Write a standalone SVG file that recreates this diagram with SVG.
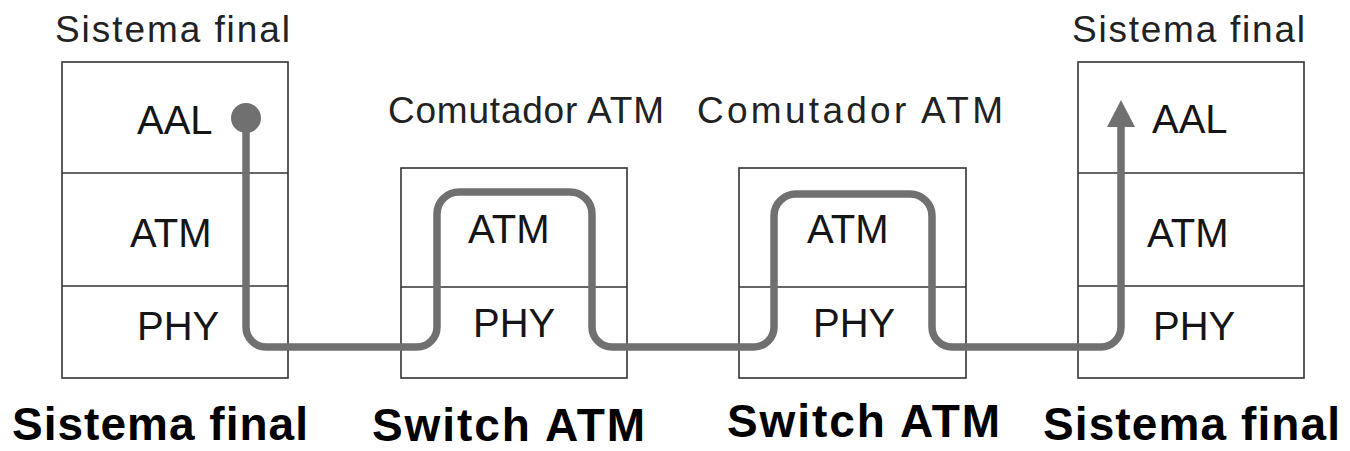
<svg xmlns="http://www.w3.org/2000/svg" width="1350" height="451" viewBox="0 0 1350 451">
  <style>
    .box { fill: #ffffff; stroke: #333333; stroke-width: 1.6; }
    .div { stroke: #333333; stroke-width: 1.6; }
    .layer { font-family: "Liberation Sans", Arial, sans-serif; font-size: 40px; fill: #151515; }
    .top { font-family: "Liberation Sans", Arial, sans-serif; font-size: 37px; fill: #222222; }
    .bot { font-family: "Liberation Sans", Arial, sans-serif; font-size: 46px; font-weight: bold; fill: #000000; }
    .flow { fill: none; stroke: #707070; stroke-width: 7.5; stroke-linejoin: round; }
  </style>
  <rect width="1350" height="451" fill="#ffffff"/>

  <g id="end-left">
    <text class="top" x="55" y="42" textLength="235" lengthAdjust="spacing">Sistema final</text>
    <rect class="box" x="62" y="62" width="226" height="316"/>
    <line class="div" x1="62" y1="173" x2="288" y2="173"/>
    <line class="div" x1="62" y1="286" x2="288" y2="286"/>
    <text class="layer" x="137" y="134">AAL</text>
    <text class="layer" x="130" y="247">ATM</text>
    <text class="layer" x="137" y="340">PHY</text>
    <text class="bot" x="12" y="440" textLength="296" lengthAdjust="spacing">Sistema final</text>
  </g>

  <g id="switch-1">
    <text class="top" x="388" y="123" textLength="276" lengthAdjust="spacing">Comutador ATM</text>
    <rect class="box" x="401" y="168" width="226" height="210"/>
    <line class="div" x1="401" y1="287" x2="627" y2="287"/>
    <text class="layer" x="468" y="243">ATM</text>
    <text class="layer" x="473" y="337">PHY</text>
    <text class="bot" x="372" y="441" textLength="273" lengthAdjust="spacing">Switch ATM</text>
  </g>

  <g id="switch-2">
    <text class="top" x="697" y="123" textLength="306" lengthAdjust="spacing">Comutador ATM</text>
    <rect class="box" x="739" y="168" width="227" height="210"/>
    <line class="div" x1="739" y1="287" x2="966" y2="287"/>
    <text class="layer" x="807" y="243">ATM</text>
    <text class="layer" x="813" y="337">PHY</text>
    <text class="bot" x="727" y="437" textLength="273" lengthAdjust="spacing">Switch ATM</text>
  </g>

  <g id="end-right">
    <text class="top" x="1072" y="42" textLength="233" lengthAdjust="spacing">Sistema final</text>
    <rect class="box" x="1078" y="62" width="226" height="316"/>
    <line class="div" x1="1078" y1="173" x2="1304" y2="173"/>
    <line class="div" x1="1078" y1="286" x2="1304" y2="286"/>
    <text class="layer" x="1152" y="133">AAL</text>
    <text class="layer" x="1147" y="247">ATM</text>
    <text class="layer" x="1153" y="340">PHY</text>
    <text class="bot" x="1043" y="440" textLength="297" lengthAdjust="spacing">Sistema final</text>
  </g>

  <g id="connectors">
    <path class="flow" d="M246,119 V327 A20,20 0 0 0 266,347 H417 A20,20 0 0 0 437,327 V214 A22,22 0 0 1 459,192 H570 A22,22 0 0 1 592,214 V327 A20,20 0 0 0 612,347 H754 A20,20 0 0 0 774,327 V216 A22,22 0 0 1 796,194 H910 A22,22 0 0 1 932,216 V327 A20,20 0 0 0 952,347 H1101 A20,20 0 0 0 1121,327 V124"/>
    <circle cx="246" cy="118" r="15" fill="#707070"/>
    <polygon points="1121,100 1107,127 1135,127" fill="#707070"/>
  </g>
</svg>
